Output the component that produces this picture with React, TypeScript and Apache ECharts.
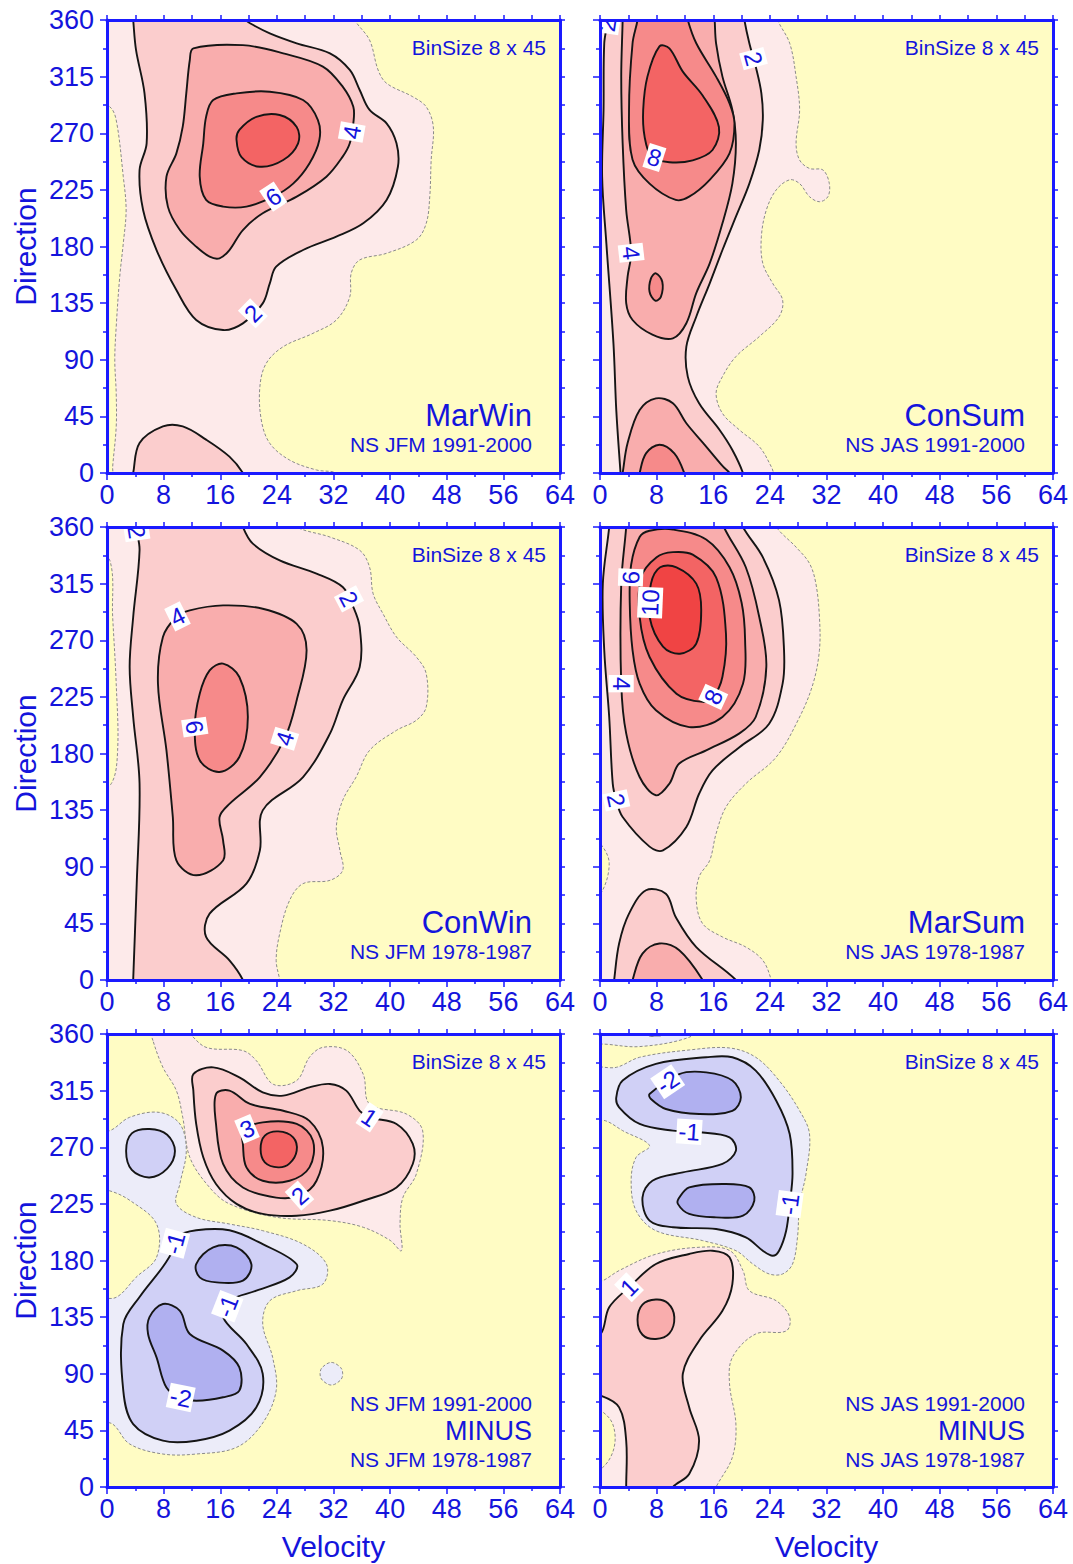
import { useEffect, useRef } from "react";
import * as echarts from "echarts";

type Pt = [number, number];

// ---------- axes ----------
const velocityTicks = [0, 8, 16, 24, 32, 40, 48, 56, 64];
const directionTicks = [0, 45, 90, 135, 180, 225, 270, 315, 360];
const absLevels = [0.5, 2, 4, 6, 8, 10];
const diffLevels = [0.5, 1, 2, 3, 4];

// ---------- MarWin (NS JFM 1991-2000) ----------
const marWinOuter: Pt[] = [[-2,367],[34.8,367],[35,360],[37.1,344],[38.3,320.3],[39.5,309.7],[43.2,299],[45.1,291],[46.1,275.2],[45.8,248.7],[45.6,219.6],[45.1,198.4],[43.7,185.2],[39.5,174.6],[35.7,169.3],[34.5,158.7],[34.3,140],[32.4,121.6],[29.1,111],[24.9,100.4],[22.5,87.2],[21.6,68.6],[21.8,42.1],[23,23.6],[25.8,10.3],[29.6,2.4],[32.4,0],[33,-7],[-2,-7]];
const marWinHole: Pt[] = [[-2,296],[0.4,291],[1.3,280.5],[2.3,235.5],[2.7,209],[2.3,182.5],[1.8,156],[1.3,116.3],[1.1,90],[1.3,63.3],[1.3,36.8],[0.8,5],[0.7,-7],[-2,-7]];
const marWin2: Pt[] = [[3.6,367],[3.7,360],[4.1,336.2],[5.3,301.7],[5.6,262],[4.6,240.8],[5.1,209],[7,177.2],[9.8,145.4],[12.6,121.6],[16.4,113.6],[19.2,118.9],[22,134.8],[23,150.7],[23.9,164],[27.7,177.2],[32.4,187.8],[36.2,198.4],[39.5,217],[41.1,243.4],[40.9,262],[39.5,277.9],[37.1,288.5],[35.7,304.4],[34.3,320.3],[31.5,333.5],[26.8,341.5],[23,349.4],[20.2,357.4],[19.7,360],[19.6,367]];
const marWin2b: Pt[] = [[3.5,-7],[3.7,0],[4.6,23.8],[7.9,37],[10.7,37],[14,26.5],[17.3,13],[19.2,0],[19.5,-7]];
const marWin4: Pt[] = [[12.2,337.5],[19.2,340],[24.9,333.5],[30.5,323],[33.3,307],[34.8,291],[34.8,277.9],[34.3,262],[33.3,251.4],[31,235.5],[26.8,219.6],[22,206.4],[19.2,193.1],[17.3,177.2],[15.9,170.6],[14.5,171.9],[12.6,179.9],[10.3,193.1],[8.6,211.7],[8.4,235.5],[9.8,254],[10.7,275.2],[11.2,301.7],[11.7,328.2]];
const marWin6: Pt[] = [[15,296.4],[18.3,301.7],[23,303],[27.7,296.4],[29.8,280.5],[30,264.6],[28.6,246],[26.3,230],[23.5,219.6],[19.7,211.7],[16.4,211.7],[14,217],[13.1,235.5],[13.6,262],[14,283]];
const marWin8: Pt[] = [[18.7,272.6],[21.1,283],[24.4,284.5],[26.8,275],[27,262],[24.9,248.7],[21.6,243.4],[19,251],[18.3,264.6]];

// ---------- ConSum (NS JAS 1991-2000) ----------
const conSumOuter: Pt[] = [[-2,367],[25,367],[25.1,360],[26.8,341.5],[27.7,315],[28.2,288.5],[27.7,262],[28.2,248.7],[29.6,242],[31.5,240.8],[32.4,230],[32.2,219.6],[31,215.6],[29.6,219.6],[28.2,230],[26.8,233],[24.9,225],[23.5,209],[22.8,187.8],[23,166.6],[24.4,150.7],[25.8,137.5],[25.3,124.2],[22.5,108.4],[19.2,92.5],[17.3,76.6],[16.4,63.3],[17.3,47.4],[19.7,34.2],[22.5,21],[24.2,5],[24.5,0],[24.6,-7],[-2,-7]];
const conSum2: Pt[] = [[1,367],[1.1,360],[0.6,341.5],[0.5,288.5],[0.3,235.5],[0.9,182.5],[1.9,103],[2.3,50],[2.9,0],[3,-7],[20.3,-7],[20.2,0],[18.7,18.3],[16.9,34.2],[14,55.4],[12.4,76.6],[12.2,100.4],[13.6,124.2],[15.5,150.7],[17.3,177.2],[19.2,203.7],[21.1,230],[22.5,256.7],[23,280.5],[22.8,301.7],[22,323],[21.1,341.5],[20.4,360],[20.3,367]];
const conSum4: Pt[] = [[3.2,367],[3.2,360],[3,315],[3.2,262],[3.7,209],[4.4,175],[3.9,156],[3.7,135],[4.6,121.6],[7.4,110],[10.3,107],[12.2,119],[13.6,143],[15.5,166.6],[17.3,198.4],[18.7,230],[19.2,262],[18.7,288.5],[17.3,315],[16.4,341.5],[16.2,360],[16.1,367]];
const conSum6: Pt[] = [[5.3,367],[5.3,360],[4.6,341.5],[4.1,288.5],[4.6,249],[7,230],[10.7,217],[12.6,219.6],[15.5,233],[18.3,254],[19,277.9],[18.3,293.8],[16.4,315],[13.6,341.5],[12.4,360],[12.3,367]];
const conSum8: Pt[] = [[8.4,339],[9.8,337.5],[11.7,319],[14.5,300],[16.8,275],[15.9,256.7],[13.1,248.5],[9.8,247],[7.3,251.4],[6.3,267.3],[6.1,288.5],[6.7,315]];
const conSum6b: Pt[] = [[7.9,158.7],[8.8,152],[8.6,140],[7.8,137],[7,144],[7.2,154.7]];
const conSum4b: Pt[] = [[3,-7],[3.2,0],[3.9,23.8],[5.6,50],[7.9,59.3],[10.3,55.4],[12.2,39.5],[15,21],[17.4,5],[18.3,0],[18.5,-7]];
const conSum6c: Pt[] = [[5.5,-7],[5.6,0],[6.5,15.6],[8.4,22.5],[10.5,15.6],[11.9,0],[12,-7]];

// ---------- ConWin (NS JFM 1978-1987) ----------
const conWinOuter: Pt[] = [[-2,367],[26.7,367],[26.8,360],[31.5,352],[35.7,341.5],[37.1,328],[37.6,307],[39,291],[40.9,272.6],[43.7,256.7],[45.1,243.4],[45.1,217],[43.7,206.4],[40.9,198.4],[37.1,182.5],[35.2,161.3],[33.3,142.8],[32.4,121.6],[32.9,103],[33.3,87.2],[31.5,79.2],[27.7,76.6],[25.8,63.3],[24.4,36.8],[23.9,15.6],[24.4,0],[24.5,-7],[-2,-7]];
const conWinHole: Pt[] = [[-2,340],[0.4,333.5],[0.8,288.5],[1.3,235.5],[1.5,182.5],[0.6,156],[-2,150]];
const conWin2: Pt[] = [[4.1,367],[4.1,360],[4.6,341.5],[3.7,288.5],[3.2,249],[3.7,209],[4.6,156],[4.2,76.6],[3.7,0],[3.7,-7],[19.3,-7],[19.2,0],[17.3,15.6],[14,34.2],[14.5,52.7],[19.7,76.6],[21.6,103],[22,134.8],[27.7,161.3],[31.5,195.8],[33.3,222.3],[35.7,248.7],[35.7,280.5],[34.8,296.4],[33.3,312.3],[29.6,323],[24.4,333.5],[20.6,346.8],[19.2,360],[19.1,367]];
const conWin4: Pt[] = [[11.7,293.8],[16.4,297.7],[22,295],[26.8,283],[28.2,262],[26.8,222.3],[25.1,191.8],[21.6,161.3],[17.3,140],[15.9,129.5],[16.4,111],[16.4,95],[12.6,83.2],[9.8,95],[9.3,129.5],[8.4,182.5],[7.2,235.5],[7.9,272.6],[9.8,288.5]];
const conWin6: Pt[] = [[16.4,251.4],[18.7,240.8],[19.9,209],[18.7,177.2],[15.9,165.3],[13.1,174.6],[12.4,201],[13.1,227.5],[14.5,246]];

// ---------- MarSum (NS JAS 1978-1987) ----------
const marSumOuter: Pt[] = [[-2,367],[24.8,367],[24.9,360],[27.7,344],[29.6,331],[30.5,315],[31,288.5],[31,262],[30.1,235.5],[28.2,209],[24.9,177.2],[20.6,156],[17.8,137.5],[16.4,116.3],[15.5,95],[14,82],[13.6,63.3],[14.5,44.8],[17.3,34.2],[20.6,26.2],[23,15.6],[24.2,0],[24.3,-7],[-2,-7]];
const marSumHole: Pt[] = [[-2,116],[0.1,108],[1.3,92.5],[0.1,68.6],[-2,62]];
const marSum2: Pt[] = [[1.3,367],[1.3,360],[0.4,315],[0.6,262],[1.3,209],[1.8,156],[2.3,142.8],[3.2,129.5],[7,106],[8.9,103],[12.2,121.6],[14,148],[15.9,166.6],[19.7,185],[23.9,203.7],[25.8,235.5],[26,262],[25.3,301.7],[23,336],[20.2,360],[20.1,367]];
const marSum2b: Pt[] = [[1.9,-7],[2,0],[2.7,29],[4.1,52.7],[6.5,71.3],[9.3,68.6],[10.7,50],[13.6,26.2],[19.2,0],[19.5,-7]];
const marSum4b: Pt[] = [[4.5,-7],[4.6,0],[6,21],[8.4,29],[11.2,23.6],[14.5,0],[14.7,-7]];
const marSum4: Pt[] = [[3.7,367],[3.7,360],[3,315],[3,235.5],[3.7,196],[5.6,161.3],[7.9,146.8],[9.8,156],[11.2,172],[15,182.5],[19.7,196],[22,209],[23.5,249],[22.5,288.5],[20.6,328],[17.5,360],[17.4,367]];
const marSum6: Pt[] = [[5.6,352],[4.4,330],[4.2,300],[4.6,262],[5.6,235.5],[7.9,214.3],[12.6,201],[17.3,209],[20.2,235.5],[20.5,270],[20,300],[18.3,328],[15,350],[10.3,358],[7,357]];
const marSum8: Pt[] = [[10.3,340],[13.1,338],[16.4,320],[17.8,275],[17.3,241],[16,225],[14.5,221],[10.8,227.5],[7,256.7],[5.6,288.5],[5.8,320],[8,336]];
const marSum10: Pt[] = [[8.5,328],[10.8,328],[13.6,315],[14.3,294],[13.6,267.3],[11.3,259.3],[8.9,265],[7,288.5],[7.2,315]];

// ---------- JFM difference ----------
const jfmPos05: Pt[] = [[6.5,354.7],[6.3,363],[10.8,363],[14,349.4],[19.2,346.8],[21.1,338.8],[23.5,320],[26.8,323],[28.6,341.5],[30.5,349.4],[33.9,346.8],[36.2,328],[37.1,304.4],[42.3,296.4],[44.6,283],[43.7,248.7],[41.8,230],[41.4,209],[41.6,187.8],[40,196],[36.2,206.4],[31.5,211.7],[24,214.3],[17.3,225],[14.5,238],[11.7,262],[10.7,293.8],[9.8,315],[7.9,333.5]];
const jfmNeg05: Pt[] = [[-2,285],[0.3,283],[3.2,293.8],[7.4,297.7],[10.3,288.5],[11.2,267.3],[10.3,241],[9.8,225],[12.6,214.3],[17.3,209],[22,203.7],[27.7,193],[31,177.2],[30.5,161.3],[26.8,156],[23,148],[22,129.5],[23.4,103],[23.9,76.6],[21.9,50],[18.3,31.5],[12.6,26.2],[7.9,26.2],[3.2,34.2],[0.8,50],[-2,55],[-2,148],[1.3,150.7],[4.1,166.6],[7,182.5],[7,209],[3.3,227.5],[0.3,235.5],[-2,236]];
const jfmNeg05b: Pt[] = [[31.7,99],[33,95],[33.3,90],[33,85],[31.7,81],[30.4,85],[30.1,90],[30.4,95]];
const jfmPos1: Pt[] = [[12.2,328.2],[15,333.5],[18.7,325.6],[22,313.6],[24.9,311],[28.6,317.6],[31.5,320.3],[33.8,315],[35.7,299],[37.1,293.8],[40.9,288.5],[43.2,272.6],[43.2,256.7],[40.9,238.1],[36.2,227.5],[31.5,219.6],[26.8,215.6],[22,217],[18.3,225],[15.4,240.8],[13.6,262],[12.6,288.5],[12.2,315]];
const jfmNeg1a: Pt[] = [[6,284.5],[8.5,280],[9.6,267],[8.5,253],[6,246],[3.5,252],[2.7,267],[3.5,281]];
const jfmNeg1: Pt[] = [[9.8,198.5],[12.6,204],[17.3,204],[22,193],[26.8,177],[25.8,166.6],[21.1,156],[17.3,148],[16.4,135],[19.7,113.6],[22,90],[21.1,63.3],[17.3,44.8],[12.6,36.8],[7.9,36.8],[3.7,50],[2.3,76.6],[2.3,129.5],[4.6,151],[7.9,175],[9.3,188]];
const jfmPos2: Pt[] = [[15.4,312.3],[17.3,315],[20.2,304.4],[24.9,299],[28.6,291],[30.5,270],[29.6,243.4],[27.2,231.5],[23.9,230],[19.2,238],[16.4,256.7],[15.4,288.5]];
const jfmNeg2a: Pt[] = [[12.6,177.2],[15,190.5],[18.3,190.5],[20.4,177],[19.2,164],[15.5,162.6],[13.1,166.6]];
const jfmNeg2b: Pt[] = [[6,135],[7.9,145.4],[10.3,140],[11.7,121.6],[16.4,108.4],[18.7,95],[18.7,76.6],[16.4,71.3],[12.6,68.6],[10.3,71.3],[8.4,79],[7,103],[5.8,121.6]];
const jfmPos3: Pt[] = [[19.2,283.2],[22,289.8],[26.8,288.5],[29.1,275.2],[28.6,254],[25.8,243.4],[22,243.4],[19.7,254],[19.2,272.6]];
const jfmPos4: Pt[] = [[24.2,282.6],[26.3,277.9],[26.8,267.3],[25.8,257.2],[24.2,254],[22.3,258],[21.7,268.6],[22.3,279.2]];

// ---------- JAS difference ----------
const jasTopNeg05: Pt[] = [[-2,367],[-2,352],[0.5,352],[5.6,350],[12.6,357.4],[14,367]];
const jasTopNeg1: Pt[] = [[6.5,367],[6.8,359.5],[8,359],[9,360],[9.5,367]];
const jasNeg05: Pt[] = [[-2,332],[2.3,333.5],[5.6,341.5],[12.6,347.3],[18.3,348.9],[22,341.5],[25.3,323],[28.2,299],[29.6,280.5],[29.1,248.7],[28.2,225],[27.9,198.4],[27.2,177.2],[25.8,169.3],[23.9,169.3],[21.6,177.2],[19.2,187.8],[14.5,195.8],[7.9,203.7],[5.1,219.6],[4.4,243.4],[5.1,262],[7,271.3],[3.2,283.2],[0.8,291],[-2,293]];
const jasNeg1: Pt[] = [[2.3,309.7],[3.2,323],[7.9,336.2],[15,341.5],[18.7,341.5],[22,330.9],[24.9,307],[26.8,280.5],[27.2,248.7],[26.8,225],[26.3,203.7],[25.3,187.8],[24.4,183.8],[23,187.8],[20.6,198.4],[16.4,205],[10.3,206.4],[7,211.7],[6,230],[7.4,243.4],[11.7,250],[17.3,256.7],[19.2,267.3],[18.3,277.9],[14,281.9],[10.3,283.2],[5.6,288.5],[2.7,301.7]];
const jasNeg2a: Pt[] = [[7,312.3],[11.2,328.2],[15,329.5],[18.7,323],[19.9,309.7],[18.7,299],[14,296.4],[9.3,300.4],[7.2,308.3]];
const jasNeg2b: Pt[] = [[11.2,230],[12.6,238.1],[17.3,240.8],[21.1,238.1],[21.8,227.5],[20.2,215.6],[16.4,214.3],[12.6,217],[11,225]];
const jasPos05: Pt[] = [[-2,160],[0.4,164],[2.7,172],[7.9,185],[14,190.5],[18.3,188],[20.2,172],[21.1,156],[24.9,148],[26.8,135],[26.3,124],[22,121.6],[18.7,103],[18.3,82],[19.2,50],[18.7,23.6],[16.4,0],[16,-7],[-2,-7]];
const jasHole: Pt[] = [[-2,64],[0.1,60.7],[1.8,50],[2,31.5],[0.4,15.6],[-2,12]];
const jasPos1: Pt[] = [[-2,120],[0.1,121.6],[1.3,142.8],[4.1,158.7],[7.9,177.2],[12.6,185.2],[15.9,187.8],[18.3,182.5],[18.7,161.3],[17.3,140],[14,116.3],[11.7,90],[12.6,63.3],[14,36.8],[12.6,10.3],[10.3,0],[10,-7],[3.7,-7],[3.7,0],[3.7,36.8],[2.7,63.3],[0.1,72.6],[-2,73]];
const jasPos2: Pt[] = [[7.9,149],[9.6,146],[10.5,135],[9.8,122],[7.9,117.6],[6,121],[5.3,133],[6,145]];

// ---------- panel texts ----------
const binSizeText = "BinSize 8 x 45";
const textMarWin = ["MarWin", "NS JFM 1991-2000"];
const textConSum = ["ConSum", "NS JAS 1991-2000"];
const textConWin = ["ConWin", "NS JFM 1978-1987"];
const textMarSum = ["MarSum", "NS JAS 1978-1987"];
const textJfmDiff = ["NS JFM 1991-2000", "MINUS", "NS JFM 1978-1987"];
const textJasDiff = ["NS JAS 1991-2000", "MINUS", "NS JAS 1978-1987"];

type Contour = [Pt[], number];
type Lbl = { text: string; v: number; d: number; line: Pt[] };

const panels: { contours: Contour[]; labels: Lbl[]; levels: number[]; texts: string[] }[] = [
  {
    levels: absLevels, texts: textMarWin,
    contours: [[marWinOuter, 0.5], [marWinHole, 0], [marWin2, 2], [marWin2b, 2], [marWin4, 4], [marWin6, 6], [marWin8, 8]],
    labels: [
      { text: "4", v: 34.5, d: 271, line: marWin4 },
      { text: "6", v: 23.5, d: 219.6, line: marWin6 },
      { text: "2", v: 20.6, d: 127, line: marWin2 },
    ],
  },
  {
    levels: absLevels, texts: textConSum,
    contours: [[conSumOuter, 0.5], [conSum2, 2], [conSum4, 4], [conSum4b, 4], [conSum6, 6], [conSum6b, 6], [conSum6c, 6], [conSum8, 8]],
    labels: [
      { text: "2", v: 1.2, d: 356, line: conSum2 },
      { text: "2", v: 21.8, d: 329.5, line: conSum2 },
      { text: "8", v: 7.7, d: 251, line: conSum8 },
      { text: "4", v: 4.4, d: 175, line: conSum4 },
    ],
  },
  {
    levels: absLevels, texts: textConWin,
    contours: [[conWinOuter, 0.5], [conWinHole, 0], [conWin2, 2], [conWin4, 4], [conWin6, 6]],
    labels: [
      { text: "2", v: 3.9, d: 356, line: conWin2 },
      { text: "2", v: 33.8, d: 301.7, line: conWin2 },
      { text: "4", v: 10, d: 288.5, line: conWin4 },
      { text: "4", v: 25.1, d: 191.8, line: conWin4 },
      { text: "6", v: 12.2, d: 201, line: conWin6 },
    ],
  },
  {
    levels: absLevels, texts: textMarSum,
    contours: [[marSumOuter, 0.5], [marSumHole, 0], [marSum2, 2], [marSum2b, 2], [marSum4, 4], [marSum4b, 4], [marSum6, 6], [marSum8, 8], [marSum10, 10]],
    labels: [
      { text: "6", v: 3.9, d: 320, line: marSum6 },
      { text: "10", v: 6.8, d: 300, line: marSum10 },
      { text: "4", v: 3, d: 235.5, line: marSum4 },
      { text: "8", v: 16, d: 225, line: marSum8 },
      { text: "2", v: 2.3, d: 142.8, line: marSum2 },
    ],
  },
  {
    levels: diffLevels, texts: textJfmDiff,
    contours: [[jfmPos05, 0.5], [jfmNeg05, -0.5], [jfmNeg05b, -0.5], [jfmPos1, 1], [jfmNeg1a, -1], [jfmNeg1, -1], [jfmPos2, 2], [jfmNeg2a, -2], [jfmNeg2b, -2], [jfmPos3, 3], [jfmPos4, 4]],
    labels: [
      { text: "3", v: 19.9, d: 283, line: jfmPos3 },
      { text: "2", v: 27.2, d: 231.5, line: jfmPos2 },
      { text: "1", v: 37.1, d: 293.8, line: jfmPos1 },
      { text: "-1", v: 10, d: 193, line: jfmNeg1 },
      { text: "-1", v: 17.3, d: 143, line: jfmNeg1 },
      { text: "-2", v: 10.3, d: 68, line: jfmNeg2b },
    ],
  },
  {
    levels: diffLevels, texts: textJasDiff,
    contours: [[jasTopNeg05, -0.5], [jasTopNeg1, -1], [jasNeg05, -0.5], [jasPos05, 0.5], [jasHole, 0], [jasNeg1, -1], [jasPos1, 1], [jasNeg2a, -2], [jasNeg2b, -2], [jasPos2, 2]],
    labels: [
      { text: "-2", v: 9.6, d: 321.7, line: jasNeg2a },
      { text: "-1", v: 12.6, d: 282, line: jasNeg1 },
      { text: "-1", v: 26.5, d: 225, line: jasNeg1 },
      { text: "1", v: 4.1, d: 158.7, line: jasPos1 },
    ],
  },
];

// ---------- styling ----------
const FONT = '"Liberation Sans", Arial, Helvetica, sans-serif';
const AXIS = "#1a1aff";
const TEXT = "#1414dc";
const BG = "#fffcc4";
const POS = ["#fdeaea", "#fbcdcd", "#f9adad", "#f68a8a", "#f36464", "#f04444"];
const NEG = ["#ececf9", "#d0d0f6", "#b0b0f0"];
const GRID_LEFT = [107, 600];
const GRID_TOP = [20, 527, 1034];
const SIZE = 453;

function fillFor(level: number, levels: number[]) {
  if (level === 0) return BG;
  const idx = levels.indexOf(Math.abs(level));
  return level > 0 ? POS[idx] : NEG[idx];
}

function buildOption() {
  const grid: any[] = [];
  const xAxis: any[] = [];
  const yAxis: any[] = [];
  const series: any[] = [];
  const graphic: any[] = [];
  const vMin = velocityTicks[0], vMax = velocityTicks[velocityTicks.length - 1], vStep = velocityTicks[1] - velocityTicks[0];
  const dMin = directionTicks[0], dMax = directionTicks[directionTicks.length - 1], dStep = directionTicks[1] - directionTicks[0];
  const line = { onZero: false, lineStyle: { color: AXIS, width: 3 } };
  const tickStyle = { color: AXIS, width: 1.5 };

  panels.forEach((pn, i) => {
    const col = i % 2;
    const row = Math.floor(i / 2);
    const left = GRID_LEFT[col];
    const top = GRID_TOP[row];
    grid.push({ left, top, width: SIZE, height: SIZE, show: true, backgroundColor: BG, borderWidth: 0 });
    xAxis.push({
      gridIndex: i, type: "value", position: "bottom", min: vMin, max: vMax, interval: vStep, z: 10,
      axisLine: line,
      axisTick: { length: 7, lineStyle: tickStyle },
      minorTick: { show: true, splitNumber: 2, length: 4, lineStyle: tickStyle },
      axisLabel: { color: TEXT, fontSize: 27, fontFamily: FONT, margin: 8, showMinLabel: true, showMaxLabel: true },
      splitLine: { show: false },
    });
    xAxis.push({
      gridIndex: i, type: "value", position: "top", min: vMin, max: vMax, interval: vStep / 2, z: 10,
      axisLine: line,
      axisTick: { length: 5, lineStyle: tickStyle },
      axisLabel: { show: false },
      splitLine: { show: false },
    });
    yAxis.push({
      gridIndex: i, type: "value", position: "left", min: dMin, max: dMax, interval: dStep, z: 10,
      axisLine: line,
      axisTick: { length: 7, lineStyle: tickStyle },
      minorTick: { show: true, splitNumber: 2, length: 4, lineStyle: tickStyle },
      axisLabel: { show: col === 0, color: TEXT, fontSize: 27, fontFamily: FONT, margin: 13, showMinLabel: true, showMaxLabel: true },
      splitLine: { show: false },
    });
    yAxis.push({
      gridIndex: i, type: "value", position: "right", min: dMin, max: dMax, interval: dStep / 2, z: 10,
      axisLine: line,
      axisTick: { length: 5, lineStyle: tickStyle },
      axisLabel: { show: false },
      splitLine: { show: false },
    });

    pn.contours.forEach(([pts, level]) => {
      const dashed = level === 0 || Math.abs(level) === 0.5;
      const fill = fillFor(level, pn.levels);
      series.push({
        type: "custom",
        coordinateSystem: "cartesian2d",
        xAxisIndex: 2 * i,
        yAxisIndex: 2 * i,
        clip: true,
        silent: true,
        z: 2,
        data: pts,
        renderItem: (params: any, api: any) => {
          if (params.dataIndex !== 0) return null;
          const points = pts.map((p) => api.coord(p));
          return {
            type: "polygon",
            shape: { points, smooth: 0.35 },
            style: dashed
              ? { fill, stroke: "#8a8a8a", lineWidth: 1, lineDash: [3, 2] }
              : { fill, stroke: "#151515", lineWidth: 1.9 },
          };
        },
      });
    });

    const labels = pn.labels;
    series.push({
      type: "custom",
      coordinateSystem: "cartesian2d",
      xAxisIndex: 2 * i,
      yAxisIndex: 2 * i,
      clip: true,
      silent: true,
      z: 4,
      data: labels.map((l) => [l.v, l.d]),
      renderItem: (params: any, api: any) => {
        const l = labels[params.dataIndex];
        const p = api.coord([l.v, l.d]);
        const q = l.line.map((t) => api.coord(t));
        let best = Infinity, bx = p[0], by = p[1], ang = 0;
        for (let k = 0; k < q.length; k++) {
          const a = q[k], b = q[(k + 1) % q.length];
          const dx = b[0] - a[0], dy = b[1] - a[1];
          const len2 = dx * dx + dy * dy || 1;
          let t = ((p[0] - a[0]) * dx + (p[1] - a[1]) * dy) / len2;
          t = Math.max(0, Math.min(1, t));
          const cx = a[0] + t * dx, cy = a[1] + t * dy;
          const dist = (cx - p[0]) ** 2 + (cy - p[1]) ** 2;
          if (dist < best) { best = dist; bx = cx; by = cy; ang = Math.atan2(-dy, dx); }
        }
        if (ang > Math.PI / 2) ang -= Math.PI;
        if (ang < -Math.PI / 2) ang += Math.PI;
        return {
          type: "text",
          x: bx, y: by, rotation: ang,
          style: {
            text: l.text, fill: TEXT, font: `24px ${FONT}`, fontSize: 24, fontFamily: FONT,
            align: "center", verticalAlign: "middle",
            backgroundColor: "#ffffff", padding: [1, 2, 0, 2],
          },
        };
      },
    });

    const right = left + SIZE;
    const bottom = top + SIZE;
    graphic.push({ type: "text", x: right - 14, y: top + 27, z: 20,
      style: { text: binSizeText, fill: TEXT, fontSize: 21, fontFamily: FONT, align: "right", verticalAlign: "middle" } });
    if (pn.texts.length === 2) {
      graphic.push({ type: "text", x: right - 28, y: bottom - 58, z: 20,
        style: { text: pn.texts[0], fill: TEXT, fontSize: 31, fontFamily: FONT, align: "right", verticalAlign: "middle" } });
      graphic.push({ type: "text", x: right - 28, y: bottom - 29, z: 20,
        style: { text: pn.texts[1], fill: TEXT, fontSize: 21, fontFamily: FONT, align: "right", verticalAlign: "middle" } });
    } else {
      graphic.push({ type: "text", x: right - 28, y: bottom - 84, z: 20,
        style: { text: pn.texts[0], fill: TEXT, fontSize: 21, fontFamily: FONT, align: "right", verticalAlign: "middle" } });
      graphic.push({ type: "text", x: right - 28, y: bottom - 56, z: 20,
        style: { text: pn.texts[1], fill: TEXT, fontSize: 27, fontFamily: FONT, align: "right", verticalAlign: "middle" } });
      graphic.push({ type: "text", x: right - 28, y: bottom - 28, z: 20,
        style: { text: pn.texts[2], fill: TEXT, fontSize: 21, fontFamily: FONT, align: "right", verticalAlign: "middle" } });
    }
    if (col === 0) {
      graphic.push({ type: "text", x: 25, y: top + SIZE / 2, rotation: Math.PI / 2, z: 20,
        style: { text: "Direction", fill: TEXT, fontSize: 30, fontFamily: FONT, align: "center", verticalAlign: "middle" } });
    }
    if (row === 2) {
      graphic.push({ type: "text", x: left + SIZE / 2, y: 1546, z: 20,
        style: { text: "Velocity", fill: TEXT, fontSize: 30, fontFamily: FONT, align: "center", verticalAlign: "middle" } });
    }
  });

  return { animation: false, backgroundColor: "#ffffff", grid, xAxis, yAxis, series, graphic: { elements: graphic } };
}

export default function App() {
  const ref = useRef<HTMLDivElement>(null);
  useEffect(() => {
    const chart = echarts.init(ref.current!, null, { renderer: "svg" });
    chart.setOption(buildOption() as any);
    return () => chart.dispose();
  }, []);
  return <div ref={ref} style={{ position: "absolute", left: 0, top: 0, width: 1073, height: 1564 }} />;
}
